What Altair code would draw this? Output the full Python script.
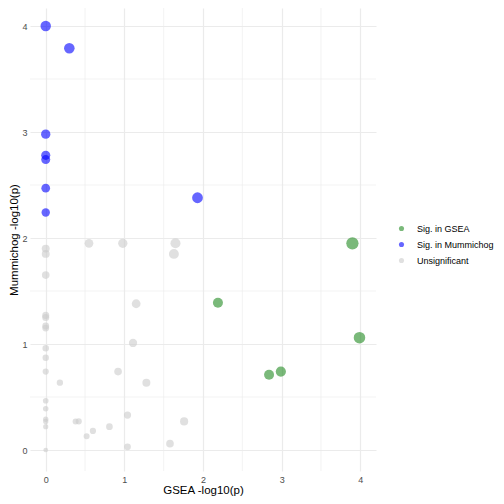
import altair as alt
import pandas as pd

gsea = [0, 0.30, 0, 0, 0, 0, 0, 1.93,
        3.90, 2.19, 3.99, 2.84, 2.99,
        0, 0, 0, 0, 0, 0, 0, 0, 0, 0, 0, 0, 0, 0, 0, 0,
        0.18, 0.55, 0.98, 1.65, 1.63, 1.15, 1.11, 0.92, 1.28, 0.38, 0.42,
        0.52, 0.60, 0.81, 1.04, 1.04, 1.58, 1.76]
mummichog = [4.00, 3.79, 2.98, 2.78, 2.74, 2.47, 2.24, 2.38,
             1.95, 1.39, 1.06, 0.71, 0.74,
             1.90, 1.85, 1.65, 1.27, 1.25, 1.17, 1.15, 0.96, 0.87, 0.74, 0.465, 0.39, 0.29, 0.27, 0.22, 0.0,
             0.635, 1.95, 1.95, 1.95, 1.85, 1.38, 1.01, 0.74, 0.635, 0.27, 0.27,
             0.13, 0.18, 0.22, 0.33, 0.03, 0.06, 0.27]
groups = (["Sig. in Mummichog"] * 8 + ["Sig. in GSEA"] * 5 + ["Unsignificant"] * 34)

df = pd.DataFrame({"gsea": gsea, "mummichog": mummichog, "group": groups})
df["total"] = df["gsea"] + df["mummichog"]
df["order"] = df["group"].map({"Unsignificant": 0, "Sig. in GSEA": 1, "Sig. in Mummichog": 1})

minor = [0.5, 1.5, 2.5, 3.5]
mdf = pd.DataFrame({"gsea": minor, "mummichog": minor})

xdom = [-0.2, 4.2]
ydom = [-0.198, 4.17]
xs = alt.Scale(domain=xdom, nice=False, zero=False)
ys = alt.Scale(domain=ydom, nice=False, zero=False)

grid_color = "#EBEBEB"

common = dict(values=[0, 1, 2, 3, 4], format="d", grid=True, gridColor=grid_color,
              gridWidth=1.2, ticks=False, domain=False,
              labelFontSize=9, labelColor="#4D4D4D", titleFontSize=11.5,
              titleFontWeight="normal", titleColor="#000000",
              labelFont="Liberation Sans", titleFont="Liberation Sans")
xaxis = alt.Axis(labelPadding=4, titleBaseline="alphabetic", titleY=22, **common)
yaxis = alt.Axis(labelPadding=3, titlePadding=2, **common)

X = alt.X("gsea:Q", scale=xs, title="GSEA -log10(p)", axis=xaxis)
Y = alt.Y("mummichog:Q", scale=ys, title="Mummichog -log10(p)", axis=yaxis)

vminor = alt.Chart(mdf).mark_rule(color=grid_color, strokeWidth=0.6).encode(x=X)
hminor = alt.Chart(mdf).mark_rule(color=grid_color, strokeWidth=0.6).encode(y=Y)

points = alt.Chart(df).mark_circle(opacity=0.6, stroke=None).encode(
    x=X,
    y=Y,
    color=alt.Color("group:N",
                    scale=alt.Scale(domain=["Sig. in GSEA", "Sig. in Mummichog", "Unsignificant"],
                                    range=["#228B22", "#0000FF", "#CCCCCC"]),
                    legend=alt.Legend(title=None, orient="none", legendX=367, legendY=216,
                                      symbolType="circle", symbolSize=26, symbolOpacity=0.6,
                                      labelFontSize=9, labelFont="Liberation Sans",
                                      labelOffset=11, labelColor="#000000", rowPadding=6,
                                      symbolStrokeWidth=0)),
    size=alt.Size("total:Q", scale=alt.Scale(domain=[0, 5.85], range=[22, 150]), legend=None),
    order=alt.Order("order:Q"),
)

chart = alt.layer(vminor, hminor, points).properties(
    width=346, height=463,
    autosize=alt.AutoSizeParams(type="none"),
    padding={"left": 22, "top": 0, "right": 120, "bottom": 25},
).configure_view(stroke=None)

chart.save("out.html", embed_options={"renderer": "svg", "actions": False})
